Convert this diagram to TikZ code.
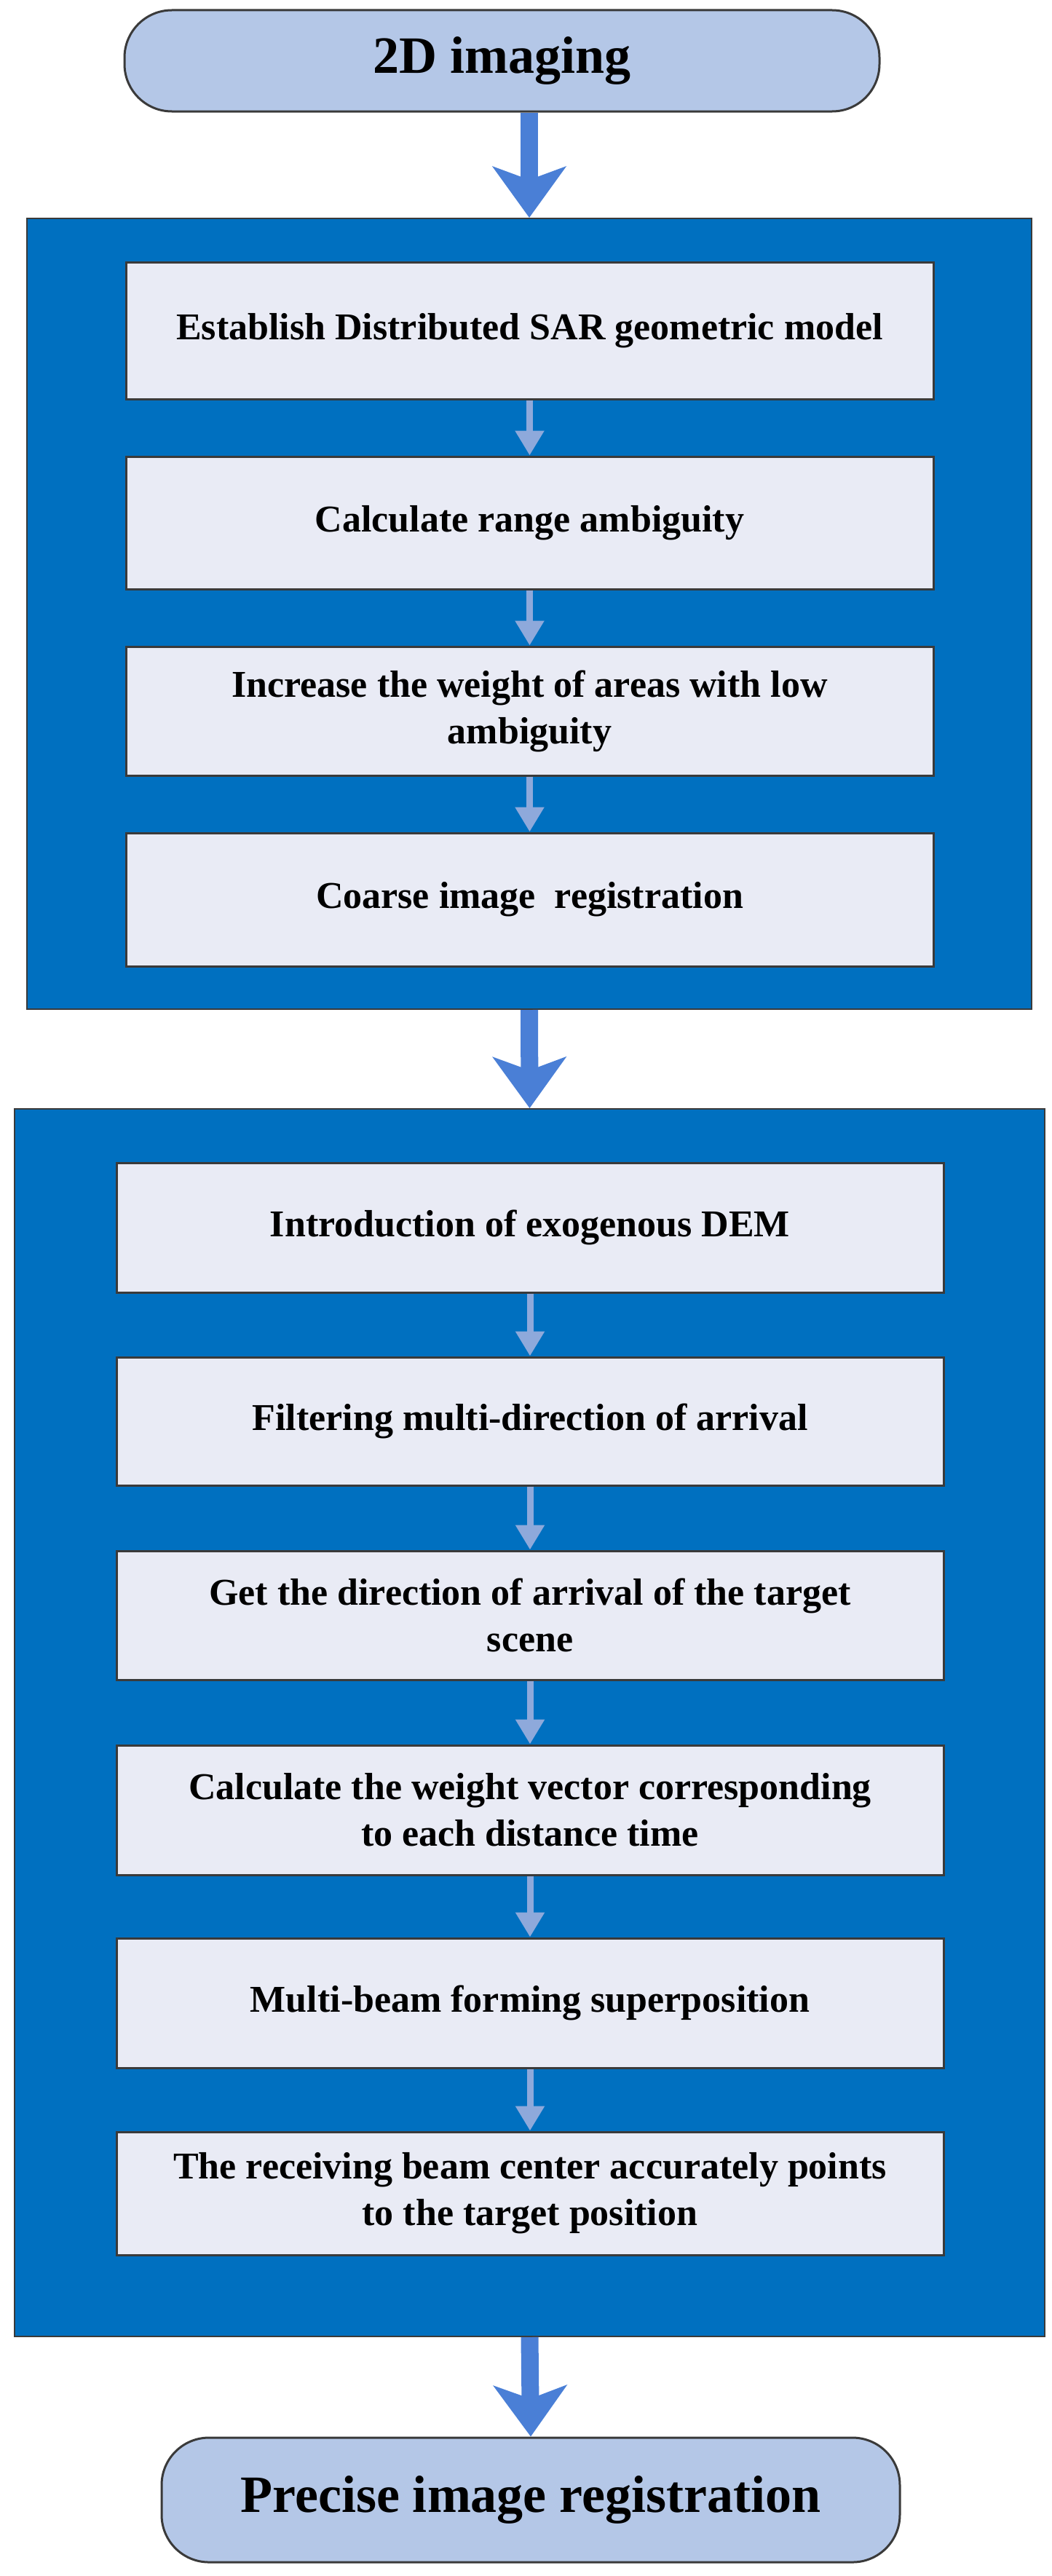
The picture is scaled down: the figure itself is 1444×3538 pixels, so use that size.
\documentclass[tikz,border=0pt]{standalone}
\usepackage{fontspec}
\setmainfont{Liberation Serif}
\usetikzlibrary{arrows.meta}
\definecolor{termfill}{HTML}{B4C7E7}
\definecolor{bigblue}{HTML}{0070C0}
\definecolor{innerfill}{HTML}{E9EBF5}
\definecolor{arrblue}{HTML}{4A7FD6}
\definecolor{smallarr}{HTML}{8EA9DB}
\definecolor{edge}{HTML}{3A3A3A}
\begin{document}
\begin{tikzpicture}[x=1pt,y=-1pt,
  term/.style={draw=edge,line width=3pt,fill=termfill,rounded corners=65pt,inner sep=0pt,font=\fontsize{72}{80}\selectfont\bfseries},
  outer/.style={draw=edge,line width=2pt,fill=bigblue,inner sep=0pt},
  ibox/.style={draw=edge,line width=3pt,fill=innerfill,inner sep=0pt,align=center,font=\fontsize{52}{64}\selectfont\bfseries},
  big/.style={draw=arrblue,line width=24pt,-{Stealth[width=100pt,length=70pt,inset=18pt]}},
  small/.style={draw=smallarr,line width=9pt,-{Triangle[width=38pt,length=34pt]}}]
\useasboundingbox (0,0) rectangle (1444,3538);
\node[term,minimum width=1037pt,minimum height=139pt] (t1) at (689.5,83.5) {2D imaging};
\node[outer,minimum width=1380pt,minimum height=1086pt] (o1) at (727,843) {};
\node[ibox,minimum width=1109pt,minimum height=188pt] (a1) at (727.5,454) {Establish Distributed SAR geometric model};
\node[ibox,minimum width=1109pt,minimum height=182pt] (a2) at (727.5,718) {Calculate range ambiguity};
\node[ibox,minimum width=1109pt,minimum height=177pt] (a3) at (727.5,976.5) {Increase the weight of areas with low\\ambiguity};
\node[ibox,minimum width=1109pt,minimum height=183pt] (a4) at (727.5,1235.5) {Coarse image\ \ registration};
\node[outer,minimum width=1415pt,minimum height=1686pt] (o2) at (727.5,2366) {};
\node[ibox,minimum width=1136pt,minimum height=178pt] (b1) at (728,1686) {Introduction of exogenous DEM};
\node[ibox,minimum width=1136pt,minimum height=176pt] (b2) at (728,1952) {Filtering multi-direction of arrival};
\node[ibox,minimum width=1136pt,minimum height=177pt] (b3) at (728,2218.5) {Get the direction of arrival of the target\\scene};
\node[ibox,minimum width=1136pt,minimum height=178pt] (b4) at (728,2486) {Calculate the weight vector corresponding\\to each distance time};
\node[ibox,minimum width=1136pt,minimum height=178pt] (b5) at (728,2751) {Multi-beam forming superposition};
\node[ibox,minimum width=1136pt,minimum height=169pt] (b6) at (728,3012.5) {The receiving beam center accurately points\\to the target position};
\node[term,minimum width=1014pt,minimum height=171pt] (t2) at (729,3433.5) {Precise image registration};
\draw[big] (t1.south -| o1.north) -- (o1.north);
\draw[big] (o1.south) -- (o2.north);
\draw[big] (o2.south) -- (t2.north);
\draw[small] (a1) -- (a2);
\draw[small] (a2) -- (a3);
\draw[small] (a3) -- (a4);
\draw[small] (b1) -- (b2);
\draw[small] (b2) -- (b3);
\draw[small] (b3) -- (b4);
\draw[small] (b4) -- (b5);
\draw[small] (b5) -- (b6);
\end{tikzpicture}
\end{document}
